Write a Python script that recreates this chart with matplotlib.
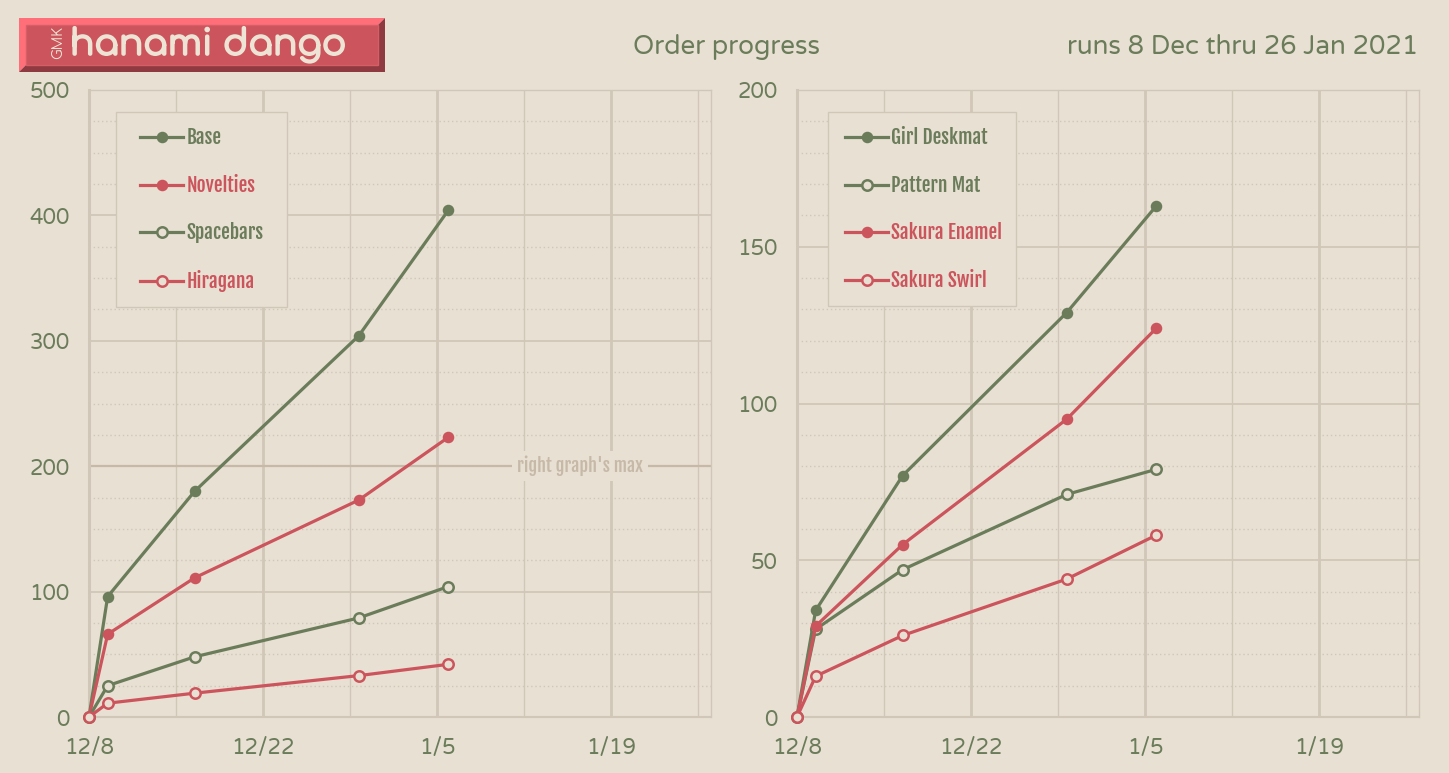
import matplotlib.pyplot as plt
from matplotlib.patches import Polygon, Rectangle
from matplotlib.legend_handler import HandlerLine2D
import matplotlib.patheffects as pe

# colours
BG = "#e8e0d3"
GREEN = "#6b7c5a"
RED = "#cc545c"
GRID = "#d0c7b8"
MAXC = "#c6b9a8"
CREAM = "#ede4d5"

# days since 12/8
days = [0, 1.5, 8.5, 21.7, 28.9]

# left chart
base = [0, 96, 180, 304, 404]
novelties = [0, 66, 111, 173, 223]
spacebars = [0, 25, 48, 79, 104]
hiragana = [0, 11, 19, 33, 42]

# right chart
girl_deskmat = [0, 34, 77, 129, 163]
pattern_mat = [0, 28, 47, 71, 79]
sakura_enamel = [0, 29, 55, 95, 124]
sakura_swirl = [0, 13, 26, 44, 58]

xtick_pos = [0, 14, 28, 42]
xtick_labels = ["12/8", "12/22", "1/5", "1/19"]

TICK_FONT = ["Varela Round", "Open Sans", "DejaVu Sans"]
LEG_FONT = ["Fjalla One", "Oswald", "Barlow Condensed", "DejaVu Sans"]
LOGO_FONT = ["Comfortaa", "DejaVu Sans"]

W, H = 1449, 773
AX_W, AX_H = 621.5, 627
fig = plt.figure(figsize=(W / 100, H / 100), dpi=100, facecolor=BG)


def px(x, y):
    return (x / W, 1 - y / H)


def setup(ax, ymax, ymajor, yminor):
    ax.set_facecolor(BG)
    ax.set_xlim(0, 50)
    ax.set_ylim(0, ymax)
    ax.set_xticks(xtick_pos)
    ax.set_xticklabels(xtick_labels)
    ax.set_xticks([7, 21, 35, 49], minor=True)
    ax.set_yticks(range(0, ymax + 1, ymajor))
    ax.set_yticks(range(0, ymax + 1, yminor), minor=True)
    ax.grid(which="major", axis="x", color=GRID, lw=2)
    ax.grid(which="minor", axis="x", color=GRID, lw=1)
    ax.grid(which="major", axis="y", color=GRID, lw=1.3)
    ax.grid(which="minor", axis="y", color=GRID, lw=1, ls=(0, (1, 2)))
    ax.set_axisbelow(True)
    ax.tick_params(which="both", length=0, labelsize=15.5, labelcolor=GREEN)
    ax.tick_params(axis="x", pad=14.5)
    ax.tick_params(axis="y", pad=14)
    for lab in ax.get_xticklabels() + ax.get_yticklabels():
        lab.set_fontfamily(TICK_FONT)
    for side in ["top", "right", "bottom"]:
        ax.spines[side].set_color(GRID)
        ax.spines[side].set_linewidth(1)
    ax.spines["bottom"].set_linewidth(1.5)
    ax.spines["left"].set_color(GRID)
    ax.spines["left"].set_linewidth(2.2)


def series(ax, y, color, filled, label):
    ax.plot(days, y, color=color, lw=2.3, marker="o", markersize=6.5 if filled else 7.5,
            markerfacecolor=color if filled else BG, markeredgecolor=color,
            markeredgewidth=1.8, label=label, clip_on=False, zorder=3)


FS_PX = 14 * 100 / 72  # legend font size in pixels


def legend(ax, left_px, width_px, lead_px):
    # lead_px: gap from frame to the start of the handle line
    pad_px = 0.745 * FS_PX
    xpad = (lead_px - pad_px) / FS_PX
    hlen = (43 + lead_px - pad_px) / FS_PX
    top = 1 - (112 - 90) / AX_H
    leg = ax.legend(loc="upper left",
                    bbox_to_anchor=(left_px / AX_W, top - 0.01, width_px / AX_W, 0.01),
                    mode="expand", borderaxespad=0,
                    frameon=True, fancybox=False, facecolor=BG, edgecolor=GRID,
                    framealpha=1, labelcolor="linecolor", handlelength=hlen,
                    handletextpad=0.15, labelspacing=1.37, borderpad=0.77,
                    handler_map={plt.Line2D: HandlerLine2D(xpad=xpad)},
                    prop={"family": LEG_FONT, "size": 14})
    leg.get_frame().set_linewidth(1)


ax1 = fig.add_axes([89 / W, 56 / H, AX_W / W, AX_H / H])
setup(ax1, 500, 100, 25)
series(ax1, base, GREEN, True, "Base")
series(ax1, novelties, RED, True, "Novelties")
series(ax1, spacebars, GREEN, False, "Spacebars")
series(ax1, hiragana, RED, False, "Hiragana")
legend(ax1, 116 - 89, 171, 24)

# marker for the right chart's ceiling
ax1.axhline(200, color=MAXC, lw=1.6, zorder=2)
ax1.text(39.5, 200, "right graph's max", ha="center", va="center", color=MAXC,
         family=LEG_FONT, fontsize=13, zorder=2.5,
         bbox=dict(facecolor=BG, edgecolor="none", pad=3.5))

ax2 = fig.add_axes([797 / W, 56 / H, AX_W / W, AX_H / H])
setup(ax2, 200, 50, 10)
series(ax2, girl_deskmat, GREEN, True, "Girl Deskmat")
series(ax2, pattern_mat, GREEN, False, "Pattern Mat")
series(ax2, sakura_enamel, RED, True, "Sakura Enamel")
series(ax2, sakura_swirl, RED, False, "Sakura Swirl")
legend(ax2, 828 - 797, 188, 17)

# titles
fig.text(727 / W, 1 - 47 / H, "Order progress", ha="center", va="center",
         color=GREEN, family=TICK_FONT, fontsize=18.7)
fig.text(1418 / W, 1 - 47 / H, "runs 8 Dec thru 26 Jan 2021", ha="right", va="center",
         color=GREEN, family=TICK_FONT, fontsize=18.7)

# logo key
light = [px(19, 18), px(385, 18), px(378, 25), px(26, 25), px(26, 65), px(19, 72)]
dark = [px(385, 18), px(385, 72), px(19, 72), px(26, 65), px(378, 65), px(378, 25)]
fig.add_artist(Polygon(light, closed=True, transform=fig.transFigure, facecolor="#ff6f7a", edgecolor="none"))
fig.add_artist(Polygon(dark, closed=True, transform=fig.transFigure, facecolor="#8f3a41", edgecolor="none"))
fig.add_artist(Rectangle(px(26, 65), 352 / W, 40 / H, transform=fig.transFigure,
                         facecolor=RED, edgecolor="#d65f67", lw=1))
fig.text(70 / W, 1 - 55 / H, "hanami dango", ha="left", va="baseline", color=CREAM,
         family=LOGO_FONT, fontweight="bold", fontsize=26,
         path_effects=[pe.withStroke(linewidth=1.2, foreground=CREAM)])
fig.text(58 / W, 1 - 42 / H, "GMK", ha="center", va="center", rotation=90,
         color=CREAM, family=LOGO_FONT, fontweight="bold", fontsize=10)

fig.savefig("out.png", dpi=100, facecolor=BG)
